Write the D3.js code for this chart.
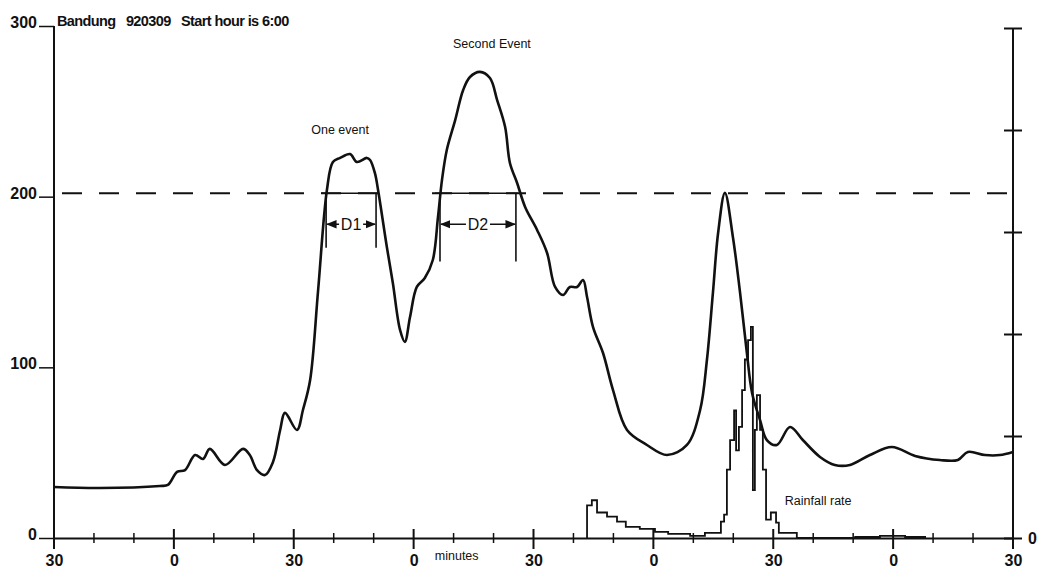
<!DOCTYPE html>
<html>
<head>
<meta charset="UTF-8">
<title>Bandung 920309</title>
<script src="https://d3js.org/d3.v7.min.js"></script>
<style>
  body { margin: 0; background: #fff; }
  svg text { font-family: "Liberation Sans", Arial, Helvetica, sans-serif; fill: #111; }
  .tick-label { font-weight: bold; font-size: 16px; }
  .note { font-size: 12.5px; }
</style>
</head>
<body>
<svg width="1043" height="588"></svg>
<script>
// level trace (left axis), minutes from the first tick
var levelMinutes = [0, 11.5, 26.5, 28.5, 30.8, 32.8, 35.3, 37.3, 39.0, 42.8, 47.3, 49.0, 50.8, 52.8, 54.8, 56.6, 57.8, 60.8, 62.3, 64.1, 66.1,
  68.3, 69.8, 71.6, 74.1, 75.8, 78.3, 79.1, 80.3, 81.1, 83.3, 84.8, 86.6, 87.8, 89.1, 90.8, 92.8, 94.8, 96.1, 97.1, 98.3,
  100.4, 102.4, 104.1, 106.6, 109.1, 110.9, 112.9, 114.1, 115.9, 117.9, 120.9, 123.4, 125.4, 127.4, 129.1, 130.9, 132.4, 133.4,
  134.9, 137.4, 139.9, 143.4, 148.4, 153.4, 158.4, 161.7, 163.4, 164.9, 166.2, 167.9, 169.9, 171.7, 173.4, 174.7, 176.7, 178.4,
  180.9, 184.2, 187.4, 191.7, 195.4, 199.2, 204.2, 209.7, 215.5, 221.7, 226.2, 228.7, 233.0, 236.7, 240];
var levelValues = [29.9, 29.3, 30.5, 31.1, 38.7, 39.8, 48.6, 46.3, 52.2, 42.8, 52.2, 48.6, 39.8, 36.9, 44.5, 63.3, 73.3, 63.3, 75.0, 92.6, 145.3,
  203.9, 220.3, 222.7, 225.0, 220.3, 222.7, 221.5, 213.9, 203.9, 170.5, 149.4, 121.9, 114.9, 129.5, 147.1, 152.3, 162.9, 188.1, 209.8, 227.4,
  244.9, 262.5, 270.1, 273.1, 269.5, 256.6, 240.8, 219.7, 208.0, 194.0, 180.5, 167.0, 147.1, 142.4, 147.1, 147.1, 151.2, 141.2,
  123.6, 108.4, 86.7, 63.3, 54.5, 48.6, 54.5, 75.0, 104.3, 143.6, 178.7, 202.2, 176.4, 143.6, 108.4, 85.0, 69.1, 57.4,
  54.5, 65.0, 57.4, 47.5, 42.8, 42.8, 48.6, 53.3, 48.1, 45.7, 45.7, 50.4, 48.6, 48.6, 50.4];

// rainfall rate (right axis), step values
var rainMinutes = [133.4, 134.6, 135.9, 138.4, 140.9, 143.1, 146.6, 150.4, 153.7, 159.2, 162.9, 166.9, 167.7, 168.4, 169.2, 170.2,
  170.7, 171.4, 172.2, 172.9, 173.7, 174.4, 174.9, 175.4, 175.9, 176.7, 177.4, 178.2, 179.4, 180.7, 181.4, 185.9, 200.5, 206.7, 213.0, 218.0];
var rainValues = [3.2, 3.7, 2.5, 2.1, 1.6, 1.1, 0.9, 0.6, 0.4, 0.2, 0.5, 1.6, 2.3, 6.7, 9.6, 12.5,
  8.6, 10.9, 14.5, 17.5, 19.4, 20.7, 4.7, 10.6, 14.0, 10.6, 6.7, 1.8, 2.5, 1.5, 0.5, 0, 0.1, 0.2, 0.1, 0];

var xMajorTicks = [0, 30, 60, 90, 120, 150, 180, 210, 240];
var xTickLabels = ["30", "0", "30", "0", "30", "0", "30", "0", "30"];
var xMinorTicks = [10, 20, 40, 50, 70, 80, 100, 110, 130, 140, 160, 170, 190, 200, 220, 230];
var yTicks = [0, 100, 200, 300];
var rainTicks = [0, 10, 20, 30, 40, 50];
var rainTickLabels = ["0", "", "", "", "", ""];

var thresholdValue = 202;
var eventNames = ["D1", "D2"];
var eventStart = [68.1, 96.6];
var eventEnd = [80.6, 115.6];
var eventLow = [170, 162];

var svg = d3.select("svg");
var ink = "#111";

var x = d3.scaleLinear().domain([0, 240]).range([54, 1013]);
var y = d3.scaleLinear().domain([0, 300]).range([538, 26]);
var yR = d3.scaleLinear().domain([0, 50]).range([538, 28]);

// left axis
var gl = svg.append("g").attr("transform", "translate(54,0)")
  .call(d3.axisLeft(y).tickValues(yTicks).tickSize(15).tickPadding(2).tickSizeOuter(0));
gl.select(".domain").attr("stroke", ink).attr("stroke-width", 2).attr("d", "M0," + y(300) + "V" + y(0));
gl.selectAll(".tick line").attr("stroke", ink).attr("stroke-width", 1.5);
gl.selectAll(".tick text").attr("class", "tick-label").attr("dy", "0.1em");

// right axis (rainfall)
var gr = svg.append("g").attr("transform", "translate(1013,0)")
  .call(d3.axisRight(yR).tickValues(rainTicks).tickSize(9).tickPadding(6).tickSizeOuter(0)
    .tickFormat(function(d, i) { return rainTickLabels[i]; }));
gr.select(".domain").attr("stroke", ink).attr("stroke-width", 2).attr("d", "M0," + yR(50) + "V" + yR(0));
gr.selectAll(".tick line").attr("stroke", ink).attr("stroke-width", 2).attr("x1", -9);
gr.selectAll(".tick text").attr("class", "tick-label");

// bottom axis
var gb = svg.append("g").attr("transform", "translate(0,538)")
  .call(d3.axisBottom(x).tickValues(xMajorTicks).tickSize(0).tickPadding(17)
    .tickFormat(function(d, i) { return xTickLabels[i]; }));
gb.select(".domain").attr("stroke", ink).attr("stroke-width", 2);
gb.selectAll(".tick text").attr("class", "tick-label");

gb.selectAll(".major").data(xMajorTicks).enter().append("line")
  .attr("x1", function(d) { return x(d); }).attr("x2", function(d) { return x(d); })
  .attr("y1", -9).attr("y2", 11).attr("stroke", ink).attr("stroke-width", 2);
gb.selectAll(".minor").data(xMinorTicks).enter().append("line")
  .attr("x1", function(d) { return x(d); }).attr("x2", function(d) { return x(d); })
  .attr("y1", -5).attr("y2", 5).attr("stroke", ink).attr("stroke-width", 1.5);

gb.append("text").attr("class", "note").attr("text-anchor", "start")
  .attr("x", x(95.3)).attr("y", 22).text("minutes");

// threshold line
svg.append("line")
  .attr("x1", x(2)).attr("x2", x(240)).attr("y1", y(thresholdValue)).attr("y2", y(thresholdValue))
  .attr("stroke", ink).attr("stroke-width", 2).attr("stroke-dasharray", "20,17");

var ev = svg.selectAll(".event").data(eventNames).enter().append("g");
ev.append("line")
  .attr("x1", function(d, i) { return x(eventStart[i]) - 5; })
  .attr("x2", function(d, i) { return x(eventEnd[i]) + 2; })
  .attr("y1", y(thresholdValue)).attr("y2", y(thresholdValue))
  .attr("stroke", ink).attr("stroke-width", 1.6);
ev.append("line")
  .attr("x1", function(d, i) { return x(eventStart[i]); }).attr("x2", function(d, i) { return x(eventStart[i]); })
  .attr("y1", y(thresholdValue)).attr("y2", function(d, i) { return y(eventLow[i]); })
  .attr("stroke", ink).attr("stroke-width", 1.6);
ev.append("line")
  .attr("x1", function(d, i) { return x(eventEnd[i]); }).attr("x2", function(d, i) { return x(eventEnd[i]); })
  .attr("y1", y(thresholdValue)).attr("y2", function(d, i) { return y(eventLow[i]); })
  .attr("stroke", ink).attr("stroke-width", 1.6);

svg.append("defs").append("marker")
  .attr("id", "arr").attr("viewBox", "0 0 10 10").attr("refX", 9).attr("refY", 5)
  .attr("markerWidth", 7).attr("markerHeight", 7).attr("orient", "auto")
  .append("path").attr("d", "M0,1L10,5L0,9z").attr("fill", ink);

ev.each(function(d, i) {
  var g = d3.select(this);
  var cx = (x(eventStart[i]) + x(eventEnd[i])) / 2;
  var cy = y(thresholdValue) + 37;
  g.append("text").attr("x", cx).attr("y", cy).attr("text-anchor", "middle")
    .attr("font-size", 16).text(d);
  g.append("line").attr("x1", cx - 12).attr("x2", x(eventStart[i]) + 1).attr("y1", cy - 6).attr("y2", cy - 6)
    .attr("stroke", ink).attr("stroke-width", 1.5).attr("marker-end", "url(#arr)");
  g.append("line").attr("x1", cx + 12).attr("x2", x(eventEnd[i]) - 1).attr("y1", cy - 6).attr("y2", cy - 6)
    .attr("stroke", ink).attr("stroke-width", 1.5).attr("marker-end", "url(#arr)");
});

// level curve
var levelLine = d3.line()
  .x(function(d, i) { return x(levelMinutes[i]); })
  .y(function(d) { return y(d); })
  .curve(d3.curveCatmullRom.alpha(0.5));
svg.append("path").datum(levelValues)
  .attr("d", levelLine).attr("fill", "none").attr("stroke", ink)
  .attr("stroke-width", 2.6).attr("stroke-linejoin", "round");

// rainfall curve (starts from zero)
svg.append("path").datum([0].concat(rainValues))
  .attr("d", d3.line()
    .x(function(d, i) { return x(i === 0 ? rainMinutes[0] : rainMinutes[i - 1]); })
    .y(function(d) { return yR(d); })
    .curve(d3.curveStepAfter))
  .attr("fill", "none").attr("stroke", ink).attr("stroke-width", 1.8);

// annotations
svg.append("text").attr("class", "note").attr("font-size", 12).attr("x", x(71.6)).attr("y", y(236.7))
  .attr("text-anchor", "middle").text("One event");
svg.append("text").attr("class", "note").attr("x", x(109.6)).attr("y", y(287))
  .attr("text-anchor", "middle").text("Second Event");
svg.append("text").attr("class", "note").attr("x", x(182.9)).attr("y", y(19.3))
  .text("Rainfall rate");

svg.append("text").attr("x", 57).attr("y", 26)
  .attr("font-weight", "bold").attr("font-size", 14.5).attr("letter-spacing", "-0.6")
  .attr("xml:space", "preserve")
  .text("Bandung   920309   Start hour is 6:00");
</script>
</body>
</html>
